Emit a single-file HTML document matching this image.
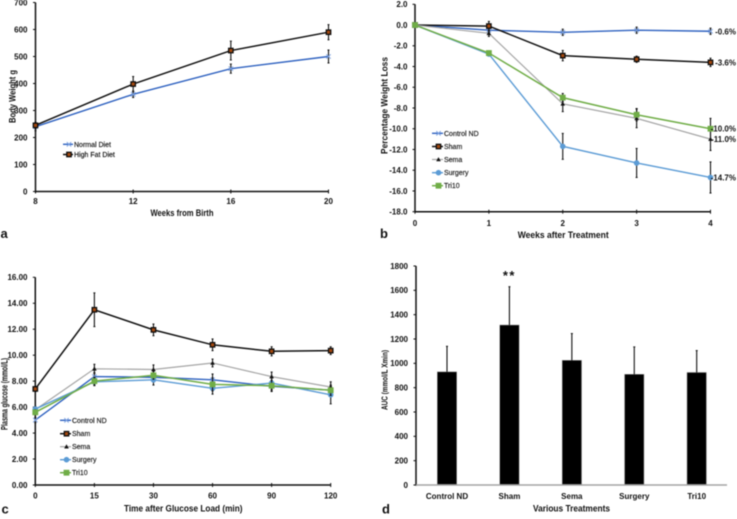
<!DOCTYPE html>
<html lang="en">
<head>
<meta charset="utf-8">
<title>Weight and glucose outcome charts</title>
<style>
html,body{margin:0;padding:0;background:#fff;width:737px;height:519px;overflow:hidden}
svg{display:block;position:absolute;left:0;top:0;font-family:"Liberation Sans",sans-serif;filter:blur(.4px)}
text{fill:#111}
</style>
</head>
<body>
<svg id="fig" width="737" height="519" viewBox="0 0 737 519" xmlns="http://www.w3.org/2000/svg"></svg>
<script>
/* Panel a data */
const aWeeks = ['8','12','16','20'];
const aTicks = [0,100,200,300,400,500,600,700];
const aNormal = [240,360,455,500];
const aNormalErr = [15,12,17,24];
const aHighFat = [245,398,522,590];
const aHighFatErr = [12,28,35,28];

/* Panel b data */
const bWeeks = ['0','1','2','3','4'];
const bTicks = [2,0,-2,-4,-6,-8,-10,-12,-14,-16,-18];
const bControl = [0,-0.5,-0.7,-0.5,-0.6];
const bControlErr = [0,0.2,0.3,0.3,0.3];
const bSham = [0,-0.1,-2.95,-3.3,-3.6];
const bShamErr = [0,0.45,0.5,0.3,0.4];
const bSema = [0,-0.8,-7.6,-9,-11];
const bSemaErr = [0,0.3,0.75,0.9,1.1];
const bSurgery = [0,-2.8,-11.7,-13.3,-14.7];
const bSurgeryErr = [0,0.1,1.25,1.4,1.5];
const bTri10 = [0,-2.7,-7,-8.65,-10];
const bTri10Err = [0,0.2,0.4,0.6,1];
const bEndLabels = ['-0.6%','-3.6%','-11.0%','-14.7%','-10.0%'];

/* Panel c data */
const cTimes = ['0','15','30','60','90','120'];
const cTicks = [0,2,4,6,8,10,12,14,16];
const cControl = [5.0,8.35,8.3,8.1,7.6,7.3];
const cControlErr = [0.2,0.3,0.3,0.45,0.4,0.3];
const cSham = [7.4,13.5,11.95,10.8,10.3,10.35];
const cShamErr = [0.2,1.3,0.45,0.45,0.35,0.3];
const cSema = [5.8,8.95,8.9,9.4,8.35,7.55];
const cSemaErr = [0.2,0.35,0.35,0.3,0.35,0.4];
const cSurgery = [5.85,7.95,8.1,7.45,7.85,6.95];
const cSurgeryErr = [0.2,0.3,0.4,0.45,0.5,0.7];
const cTri10 = [5.6,8.0,8.45,7.75,7.65,7.3];
const cTri10Err = [0.2,0.3,0.3,0.5,0.4,0.4];

/* Panel d data */
const dCategories = ['Control ND','Sham','Sema','Surgery','Tri10'];
const dTicks = [0,200,400,600,800,1000,1200,1400,1600,1800];
const dValues = [930,1315,1025,910,925];
const dErrors = [210,315,220,225,180];

const treatmentNames = ['Control ND','Sham','Sema','Surgery','Tri10'];
const dietNames = ['Normal Diet','High Fat Diet'];

const svg = document.getElementById('fig');
const NS = 'http://www.w3.org/2000/svg';

function el(tag, attrs, name, parent) {
  const node = document.createElementNS(NS, tag);
  for (const k in attrs) node.setAttribute(k, attrs[k]);
  
  
  (parent || svg).appendChild(node);
  return node;
}
function group(name) { return el('g', {}, name); }
function txt(str, x, y, size, anchor, name, parent, len, rot) {
  const a = {x:x, y:y, 'font-size':size, 'font-weight':'bold', 'text-anchor':anchor || 'start'};
  if (len) { a.textLength = len; a.lengthAdjust = 'spacingAndGlyphs'; }
  if (rot) a.transform = 'rotate(-90 ' + x + ' ' + y + ')';
  const t = el('text', a, name, parent);
  t.textContent = str;
  return t;
}
function line(x1, y1, x2, y2, color, w, name, parent) {
  return el('line', {x1:x1, y1:y1, x2:x2, y2:y2, stroke:color, 'stroke-width':w}, name, parent);
}
function linear(d0, d1, r0, r1) {
  return v => r0 + (v - d0) / (d1 - d0) * (r1 - r0);
}
function band(n, r0, r1) {
  return i => r0 + i / (n - 1) * (r1 - r0);
}

const STYLES = {
  control: {color:'#2f62c0', w:1.4, marker:'cross'},
  sham: {color:'#111111', w:1.5, marker:'sham'},
  sema: {color:'#a5a5a5', w:1.2, marker:'triangle'},
  surgery: {color:'#5b9bd5', w:1.4, marker:'circle'},
  tri10: {color:'#70ad47', w:1.5, marker:'square'}
};

function marker(kind, x, y, name, parent) {
  if (kind === 'cross') {
    line(x-2.2, y-2.2, x+2.2, y+2.2, '#7da2e0', 1, name + '-a', parent);
    line(x-2.2, y+2.2, x+2.2, y-2.2, '#7da2e0', 1, name + '-b', parent);
  } else if (kind === 'sham') {
    el('rect', {x:x-2.2, y:y-2.2, width:4.4, height:4.4, fill:'#a5490f', stroke:'#0c0c0c', 'stroke-width':1.3}, name, parent);
  } else if (kind === 'triangle') {
    el('path', {d:'M' + x + ' ' + (y-2.4) + 'l2.3 4.2h-4.6z', fill:'#111'}, name, parent);
  } else if (kind === 'circle') {
    el('circle', {cx:x, cy:y, r:2.8, fill:'#5b9bd5'}, name, parent);
  } else {
    el('rect', {x:x-2.9, y:y-2.9, width:5.8, height:5.8, fill:'#70ad47'}, name, parent);
  }
}

function drawSeries(seriesName, values, errors, style, xf, yf) {
  const g = group(seriesName + '-series');
  values.forEach((v, i) => {
    const e = errors[i];
    if (!e) return;
    const x = xf(i);
    line(x, yf(v + e), x, yf(v - e), '#111', 1.1, seriesName + '-error-bar', g);
    line(x - 1, yf(v + e), x + 1, yf(v + e), '#111', 1, seriesName + '-error-cap-top', g);
    line(x - 1, yf(v - e), x + 1, yf(v - e), '#111', 1, seriesName + '-error-cap-bottom', g);
  });
  const pts = values.map((v, i) => xf(i) + ',' + yf(v)).join(' ');
  el('polyline', {points:pts, fill:'none', stroke:style.color, 'stroke-width':style.w}, seriesName + '-line', g);
  values.forEach((v, i) => marker(style.marker, xf(i), yf(v), seriesName + '-point', g));
}

function drawAxes(prefix, x0, x1, yTop, yBottom, yTicks, yf, fmt, labelRight, xCount, xf, xLabels, xBase, color) {
  const g = group(prefix + '-axes');
  line(x0, yTop, x0, yBottom + 0.7, '#111', 1.5, prefix + '-y-axis', g);
  line(x0, yBottom, x1, yBottom, color, 1.5, prefix + '-x-axis', g);
  yTicks.forEach(t => {
    line(x0 - 2.5, yf(t), x0, yf(t), '#111', 1, prefix + '-y-tick', g);
    txt(fmt(t), labelRight, yf(t) + 2.9, 8, 'end', prefix + '-y-tick-label', g);
  });
  for (let i = 0; i < xCount; i++) {
    if (color !== '#a3a3a3') line(xf(i), yBottom - 2, xf(i), yBottom + 2, '#111', 1, prefix + '-x-tick', g);
    txt(xLabels[i], xf(i), xBase, 8, 'middle', prefix + '-x-tick-label', g);
  }
}

function drawLegend(prefix, names, styles, x0, x1, textX, ys) {
  const g = group(prefix + '-legend');
  names.forEach((n, i) => {
    line(x0, ys[i], x1, ys[i], styles[i].color, styles[i].w, prefix + '-legend-line', g);
    marker(styles[i].marker, (x0 + x1) / 2 + 1, ys[i], prefix + '-legend-marker', g);
    const t = txt(n, textX, ys[i] + 2.5, 7, 'start', prefix + '-legend-label', g);
    t.setAttribute('font-weight', 'normal');
    t.setAttribute('style', 'stroke:#1a1a1a;stroke-width:.15px');
  });
}

/* Panel a */
(function () {
  const xf = band(aWeeks.length, 35.5, 328.5);
  const yf = linear(0, 700, 191.5, 2.5);
  drawAxes('panel-a', 35.5, 329, 2.5, 191.5, aTicks, yf, String, 27.5, aWeeks.length, xf, aWeeks, 204, '#111');
  drawSeries('normal-diet', aNormal, aNormalErr, STYLES.control, xf, yf);
  drawSeries('high-fat-diet', aHighFat, aHighFatErr, STYLES.sham, xf, yf);
  drawLegend('panel-a', dietNames, [STYLES.control, STYLES.sham], 63, 73, 74, [144.3, 154.5]);
  txt('Body Weight g', 15.5, 123, 9.5, 'start', 'panel-a-y-axis-title', null, 53, true);
  txt('Weeks from Birth', 150.5, 216, 9.5, 'start', 'panel-a-x-axis-title', null, 63);
  txt('a', 0.5, 238, 13, 'start', 'panel-a-letter');
})();

/* Panel b */
(function () {
  const xf = band(bWeeks.length, 415, 710.5);
  const yf = linear(-18, 2, 211.7, 4.3);
  drawAxes('panel-b', 415, 711, 4.3, 211.7, bTicks, yf, v => v.toFixed(1), 407.5, bWeeks.length, xf, bWeeks, 226, '#111');
  drawSeries('control-nd', bControl, bControlErr, STYLES.control, xf, yf);
  drawSeries('sham', bSham, bShamErr, STYLES.sham, xf, yf);
  drawSeries('sema', bSema, bSemaErr, STYLES.sema, xf, yf);
  drawSeries('surgery', bSurgery, bSurgeryErr, STYLES.surgery, xf, yf);
  drawSeries('tri10', bTri10, bTri10Err, STYLES.tri10, xf, yf);
  const last = [bControl, bSham, bSema, bSurgery, bTri10];
  bEndLabels.forEach((label, i) => {
    txt(label, 736, yf(last[i][last[i].length - 1]) + 3, 8, 'end', 'end-value-label');
  });
  drawLegend('panel-b', treatmentNames, [STYLES.control, STYLES.sham, STYLES.sema, STYLES.surgery, STYLES.tri10], 432, 443, 444, [133.3, 146.5, 159.5, 172.7, 185.7]);
  txt('Percentage Weight Loss', 387.5, 154, 9.5, 'start', 'panel-b-y-axis-title', null, 97, true);
  txt('Weeks after Treatment', 517.7, 238, 9.5, 'start', 'panel-b-x-axis-title', null, 91);
  txt('b', 380, 238, 13, 'start', 'panel-b-letter');
})();

/* Panel c */
(function () {
  const xf = band(cTimes.length, 35.3, 330.7);
  const yf = linear(0, 16, 485, 277.3);
  drawAxes('panel-c', 35.3, 331, 277.3, 485, cTicks, yf, v => v.toFixed(2), 27.5, cTimes.length, xf, cTimes, 498.7, '#111');
  drawSeries('glucose-control-nd', cControl, cControlErr, STYLES.control, xf, yf);
  drawSeries('glucose-sham', cSham, cShamErr, STYLES.sham, xf, yf);
  drawSeries('glucose-sema', cSema, cSemaErr, STYLES.sema, xf, yf);
  drawSeries('glucose-surgery', cSurgery, cSurgeryErr, STYLES.surgery, xf, yf);
  drawSeries('glucose-tri10', cTri10, cTri10Err, STYLES.tri10, xf, yf);
  drawLegend('panel-c', treatmentNames, [STYLES.control, STYLES.sham, STYLES.sema, STYLES.surgery, STYLES.tri10], 60, 71, 72, [420.3, 433.7, 446.7, 459.7, 472.7]);
  txt('Plasma glucose (mmol/L)', 7.5, 430, 9.5, 'start', 'panel-c-y-axis-title', null, 72, true);
  txt('Time after Glucose Load (min)', 124, 511.5, 9.5, 'start', 'panel-c-x-axis-title', null, 118.5);
  txt('c', 1.5, 513.5, 13, 'start', 'panel-c-letter');
})();

/* Panel d */
(function () {
  const xf = band(dCategories.length, 447, 696.7);
  const yf = linear(0, 1800, 485, 266);
  drawAxes('panel-d', 416, 727, 266, 485, dTicks, yf, String, 408, dCategories.length, xf, dCategories, 499, '#a3a3a3');
  dValues.forEach((v, i) => {
    const x = xf(i);
    el('rect', {x:x - 9.7, y:yf(v), width:19.4, height:485 - yf(v) - 0.6, fill:'#000', stroke:'#9a9a9a', 'stroke-width':0.5}, 'auc-bar-' + dCategories[i].toLowerCase().replace(' ', '-'));
    line(x, yf(v), x, yf(v + dErrors[i]), '#111', 1.1, 'auc-error-bar');
    line(x - 1, yf(v + dErrors[i]), x + 1, yf(v + dErrors[i]), '#111', 1, 'auc-error-cap');
  });
  txt('**', xf(1), 280, 13, 'middle', 'significance-marker').setAttribute('letter-spacing', '1.5');
  txt('AUC (mmol/L Xmin)', 387.5, 410, 8.5, 'start', 'panel-d-y-axis-title', null, 60, true);
  txt('Various Treatments', 533, 511.7, 9.5, 'start', 'panel-d-x-axis-title', null, 77);
  txt('d', 382, 513.5, 13, 'start', 'panel-d-letter');
})();
</script>
</body>
</html>
